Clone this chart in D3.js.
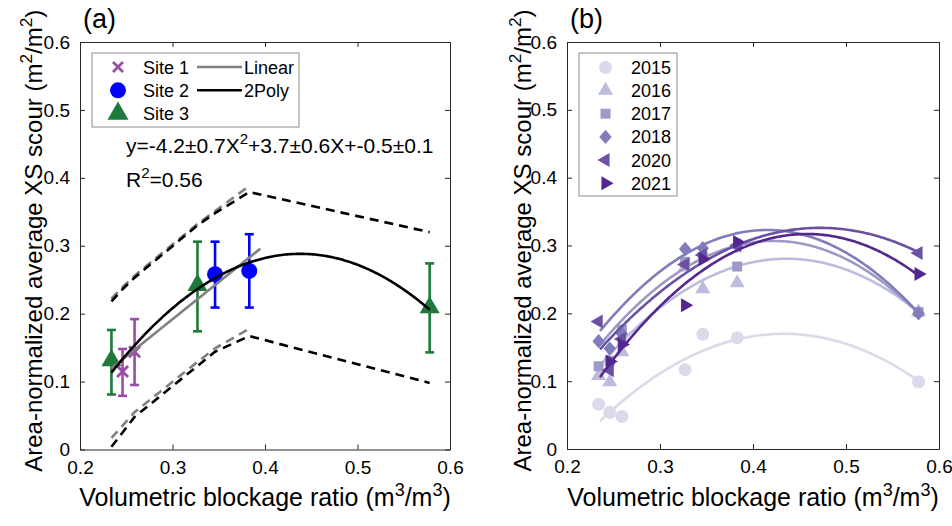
<!DOCTYPE html>
<html>
<head>
<meta charset="utf-8">
<script src="https://cdn.jsdelivr.net/npm/d3@7"></script>
<style>
  body { margin: 0; background: #fff; }
  svg { display: block; }
  text { font-family: "Liberation Sans", Arial, sans-serif; fill: #000; }
</style>
</head>
<body>
<div id="chart"></div>
<script>
// ---- data ----
const xTicks = [0.2, 0.3, 0.4, 0.5, 0.6];
const yTicks = [0, 0.1, 0.2, 0.3, 0.4, 0.5, 0.6];
const siteX = [0.234, 0.246, 0.259, 0.327, 0.346, 0.383, 0.578];

// panel (a): site means with error bars
const site1X = [0.246, 0.259], site1Y = [0.115, 0.144], site1Lo = [0.079, 0.095], site1Hi = [0.148, 0.192];
const site2X = [0.346, 0.383], site2Y = [0.258, 0.263], site2Lo = [0.209, 0.209], site2Hi = [0.306, 0.317];
const site3X = [0.234, 0.327, 0.578], site3Y = [0.131, 0.242, 0.209], site3Lo = [0.081, 0.174, 0.143], site3Hi = [0.176, 0.306, 0.274];

// fits and confidence bounds
const polyCoef = [-4.2, 3.68, -0.518];           // a, b, c
const polyRange = [0.234, 0.578];
const linCoef = [1.093, -0.136];                  // slope, intercept
const linRange = [0.234, 0.395];
const polyUpper = [0.218, 0.236, 0.253, 0.330, 0.348, 0.379, 0.320];
const polyLower = [0.004, 0.025, 0.048, 0.123, 0.144, 0.167, 0.098];
const linBandX = [0.234, 0.246, 0.259, 0.327, 0.346, 0.383];
const linUpper = [0.222, 0.239, 0.256, 0.332, 0.351, 0.388];
const linLower = [0.017, 0.035, 0.055, 0.129, 0.149, 0.178];

// panel (b): yearly values at each site (null = no point)
const years = ["2015", "2016", "2017", "2018", "2020", "2021"];
const yearShapes = ["circle", "up", "square", "diamond", "left", "right"];
const yearColors = ["#dadaeb", "#bcbddc", "#9e9ac8", "#807dba", "#6a51a3", "#54278f"];
const y2015 = [0.066, 0.054, 0.048, 0.117, 0.169, 0.164, 0.099];
const y2016 = [0.108, 0.099, 0.143, 0.268, 0.236, 0.245, 0.202];
const y2017 = [0.122, 0.130, 0.176, 0.276, 0.283, 0.269, 0.202];
const y2018 = [0.159, 0.148, 0.170, 0.295, 0.296, 0.300, 0.200];
const y2020 = [0.188, 0.116, 0.162, 0.272, 0.286, 0.300, 0.289];
const y2021 = [null, 0.129, 0.154, 0.212, 0.280, 0.305, 0.258];
const yearVals = [y2015, y2016, y2017, y2018, y2020, y2021];
const fitA = [-3.3, -3.9, -4.4, -4.62, -3.2, -4.256];
const fitB = [2.858, 3.401, 3.714, 3.835, 3.021, 3.900];
const fitC = [-0.449, -0.461, -0.477, -0.473, -0.387, -0.5765];
const fitRange = [0.2355, 0.578];

// ---- drawing ----
const W = 952, H = 526;
const svg = d3.select("#chart").append("svg").attr("width", W).attr("height", H);

function marker(shape, s) {
  switch (shape) {
    case "circle": return d3.symbol(d3.symbolCircle, Math.PI * s * s)();
    case "square": return `M${-s},${-s}H${s}V${s}H${-s}Z`;
    case "diamond": return `M0,${-s * 1.15}L${s},0L0,${s * 1.15}L${-s},0Z`;
    case "up": return `M0,${-s * 1.155}L${s},${s * 0.577}L${-s},${s * 0.577}Z`;
    case "left": return `M${-s * 1.155},0L${s * 0.577},${-s}L${s * 0.577},${s}Z`;
    case "right": return `M${s * 1.155},0L${-s * 0.577},${-s}L${-s * 0.577},${s}Z`;
    case "x": return `M${-s},${-s}L${s},${s}M${-s},${s}L${s},${-s}`;
  }
}

function supText(sel, parts, size) {
  // parts: [text, isSup]
  parts.forEach(([t, sup], i) => {
    const ts = sel.append("tspan").text(t);
    if (sup) ts.attr("font-size", size * 0.72).attr("dy", -size * 0.42);
    else if (i > 0 && parts[i - 1][1]) ts.attr("dy", size * 0.42);
  });
}

function makeAxes(left, right, top, bottom, label, titleX) {
  const x = d3.scaleLinear().domain([0.2, 0.6]).range([left, right]);
  const y = d3.scaleLinear().domain([0, 0.6]).range([bottom, top]);
  const g = svg.append("g");
  const plot = svg.append("g");

  const tl = 5;
  g.append("g").attr("transform", `translate(0,${bottom})`)
    .call(d3.axisBottom(x).tickValues(xTicks).tickSizeInner(-tl).tickSizeOuter(0).tickPadding(11).tickFormat(d3.format("~g")));
  g.append("g").attr("transform", `translate(0,${top})`)
    .call(d3.axisTop(x).tickValues(xTicks).tickSizeInner(-tl).tickSizeOuter(0).tickFormat(""));
  g.append("g").attr("transform", `translate(${left},0)`)
    .call(d3.axisLeft(y).tickValues(yTicks).tickSizeInner(-tl).tickSizeOuter(0).tickPadding(10).tickFormat(d3.format("~g")));
  g.append("g").attr("transform", `translate(${right},0)`)
    .call(d3.axisRight(y).tickValues(yTicks).tickSizeInner(-tl).tickSizeOuter(0).tickFormat(""));
  g.selectAll(".domain").attr("stroke", "#262626");
  g.selectAll(".tick line").attr("stroke", "#262626");
  g.selectAll(".tick text").attr("font-size", 19).attr("font-family", "Liberation Sans, Arial, sans-serif").attr("fill", "#000");

  const xt = g.append("text").attr("x", (left + right) / 2).attr("y", 506)
    .attr("text-anchor", "middle").attr("font-size", 25);
  supText(xt, [["Volumetric blockage ratio (m", false], ["3", true], ["/m", false], ["3", true], [")", false]], 25);

  const yt = g.append("text").attr("transform", `translate(${titleX},${(top + bottom) / 2 - 5}) rotate(-90)`)
    .attr("text-anchor", "middle").attr("font-size", 24);
  supText(yt, [["Area-normalized average XS scour (m", false], ["2", true], ["/m", false], ["2", true], [")", false]], 24);

  g.append("text").attr("x", left + 3).attr("y", 28).attr("font-size", 27).text(label);
  return { x, y, plot };
}

// ---------- panel (a) ----------
const A = makeAxes(80, 450, 42, 449.5, "(a)", 42);
const pa = A.plot;
const lineA = d3.line().x(d => A.x(d[0])).y(d => A.y(d[1]));

// error bars + markers
function siteGroup(xs, ys, lo, hi, color, shape, s) {
  xs.forEach((xv, i) => {
    const px = A.x(xv);
    pa.append("line").attr("x1", px).attr("x2", px).attr("y1", A.y(lo[i])).attr("y2", A.y(hi[i]))
      .attr("stroke", color).attr("stroke-width", 2.6);
    [lo[i], hi[i]].forEach(v => pa.append("line").attr("x1", px - 4.5).attr("x2", px + 4.5)
      .attr("y1", A.y(v)).attr("y2", A.y(v)).attr("stroke", color).attr("stroke-width", 2.6));
    const m = pa.append("path").attr("d", marker(shape, s)).attr("transform", `translate(${px},${A.y(ys[i])})`);
    if (shape === "x") m.attr("fill", "none").attr("stroke", color).attr("stroke-width", 2.8);
    else m.attr("fill", color);
  });
}
siteGroup(site3X, site3Y, site3Lo, site3Hi, "#1e7a3a", "up", 10);
siteGroup(site2X, site2Y, site2Lo, site2Hi, "#0000ff", "circle", 8);
siteGroup(site1X, site1Y, site1Lo, site1Hi, "#9a4ca6", "x", 5.5);

// confidence bounds
const dashed = (pts, color) => pa.append("path").attr("d", lineA(pts)).attr("fill", "none")
  .attr("stroke", color).attr("stroke-width", 2.6).attr("stroke-dasharray", "9,6");
dashed(linBandX.map((v, i) => [v, linUpper[i]]), "#808080");
dashed(linBandX.map((v, i) => [v, linLower[i]]), "#808080");
dashed(siteX.map((v, i) => [v, polyUpper[i]]), "#000");
dashed(siteX.map((v, i) => [v, polyLower[i]]), "#000");

// fits
pa.append("path").attr("d", lineA(linRange.map(v => [v, linCoef[0] * v + linCoef[1]])))
  .attr("fill", "none").attr("stroke", "#808080").attr("stroke-width", 2.6);
const polyPts = d3.range(polyRange[0], polyRange[1] + 1e-9, 0.002).map(v => [v, polyCoef[0] * v * v + polyCoef[1] * v + polyCoef[2]]);
pa.append("path").attr("d", lineA(polyPts)).attr("fill", "none").attr("stroke", "#000").attr("stroke-width", 2.6);

// equation text
const eq = svg.append("text").attr("x", 126).attr("y", 153).attr("font-size", 21);
supText(eq, [["y=-4.2\u00b10.7X", false], ["2", true], ["+3.7\u00b10.6X+-0.5\u00b10.1", false]], 21);
const r2 = svg.append("text").attr("x", 126).attr("y", 187).attr("font-size", 21);
supText(r2, [["R", false], ["2", true], ["=0.56", false]], 21);

// legend (a)
const lgA = svg.append("g");
lgA.append("rect").attr("x", 92).attr("y", 53).attr("width", 207).attr("height", 74)
  .attr("fill", "#fff").attr("stroke", "#8c8c8c").attr("stroke-width", 1);
const legA = [["Site 1", "x", "#9a4ca6", 5], ["Site 2", "circle", "#0000ff", 8], ["Site 3", "up", "#1e7a3a", 10.5]];
legA.forEach(([name, shape, color, s], i) => {
  const cy = 67 + i * 23.3;
  const m = lgA.append("path").attr("d", marker(shape, s)).attr("transform", `translate(118,${cy})`);
  if (shape === "x") m.attr("fill", "none").attr("stroke", color).attr("stroke-width", 2.8);
  else m.attr("fill", color);
  lgA.append("text").attr("x", 143).attr("y", cy + 6.5).attr("font-size", 18).text(name);
});
[["Linear", "#808080"], ["2Poly", "#000"]].forEach(([name, color], i) => {
  const cy = 67 + i * 23.3;
  lgA.append("line").attr("x1", 197).attr("x2", 242).attr("y1", cy).attr("y2", cy)
    .attr("stroke", color).attr("stroke-width", 2.6);
  lgA.append("text").attr("x", 244).attr("y", cy + 6.5).attr("font-size", 18).text(name);
});

// ---------- panel (b) ----------
const B = makeAxes(567, 939, 42, 449, "(b)", 531);
const pb = B.plot;
const lineB = d3.line().x(d => B.x(d[0])).y(d => B.y(d[1]));
const markSize = { circle: 6.5, up: 7.5, square: 5, diamond: 6.2, left: 7, right: 7 };

years.forEach((yr, k) => {
  yearVals[k].forEach((v, i) => {
    if (v == null) return;
    pb.append("path").attr("d", marker(yearShapes[k], markSize[yearShapes[k]]))
      .attr("transform", `translate(${B.x(siteX[i])},${B.y(v)})`).attr("fill", yearColors[k]);
  });
  const pts = d3.range(fitRange[0], fitRange[1] + 1e-9, 0.002)
    .map(v => [v, fitA[k] * v * v + fitB[k] * v + fitC[k]]);
  pb.append("path").attr("d", lineB(pts)).attr("fill", "none")
    .attr("stroke", yearColors[k]).attr("stroke-width", 2.6);
});

// legend (b)
const lgB = svg.append("g");
lgB.append("rect").attr("x", 579).attr("y", 53).attr("width", 98).attr("height", 143)
  .attr("fill", "#fff").attr("stroke", "#8c8c8c").attr("stroke-width", 1);
years.forEach((yr, k) => {
  const cy = 67.3 + k * 23.2;
  lgB.append("path").attr("d", marker(yearShapes[k], markSize[yearShapes[k]]))
    .attr("transform", `translate(605.5,${cy})`).attr("fill", yearColors[k]);
  lgB.append("text").attr("x", 631).attr("y", cy + 6.5).attr("font-size", 18).text(yr);
});
</script>
</body>
</html>
